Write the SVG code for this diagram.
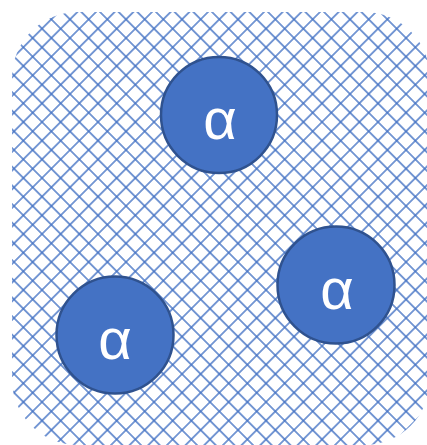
<svg xmlns="http://www.w3.org/2000/svg" width="427" height="445" viewBox="0 0 427 445">
  <defs>
    <!-- open diamond hatch: a square grid turned 45 degrees -->
    <pattern id="diamond" patternUnits="userSpaceOnUse" width="13.2" height="13.2" x="0" y="0" patternTransform="translate(14 10) rotate(45)">
      <path d="M0,6.6 H13.2 M6.6,0 V13.2" stroke="#4472C4" stroke-width="1.4" fill="none"/>
    </pattern>
  </defs>
  <style>
    .ball { fill: #4472C4; stroke: #2F528F; stroke-width: 2.5; }
    .sym { fill: #FFFFFF; font-family: "Liberation Sans", "DejaVu Sans", sans-serif; font-size: 58px; text-anchor: middle; }
  </style>

  <rect width="427" height="445" fill="#FFFFFF"/>

  <!-- hatched backdrop -->
  <g id="backdrop">
    <rect x="12" y="12" width="418" height="433" rx="66" ry="66" fill="url(#diamond)"/>
  </g>

  <g id="connectors"/>

  <g id="alpha-top">
    <circle class="ball" cx="219" cy="115" r="58"/>
    <text class="sym" x="220" y="139">α</text>
  </g>

  <g id="alpha-right">
    <circle class="ball" cx="336" cy="285" r="58.5"/>
    <text class="sym" x="337" y="309">α</text>
  </g>

  <g id="alpha-left">
    <circle class="ball" cx="115" cy="335" r="58.5"/>
    <text class="sym" x="115" y="359">α</text>
  </g>
</svg>
